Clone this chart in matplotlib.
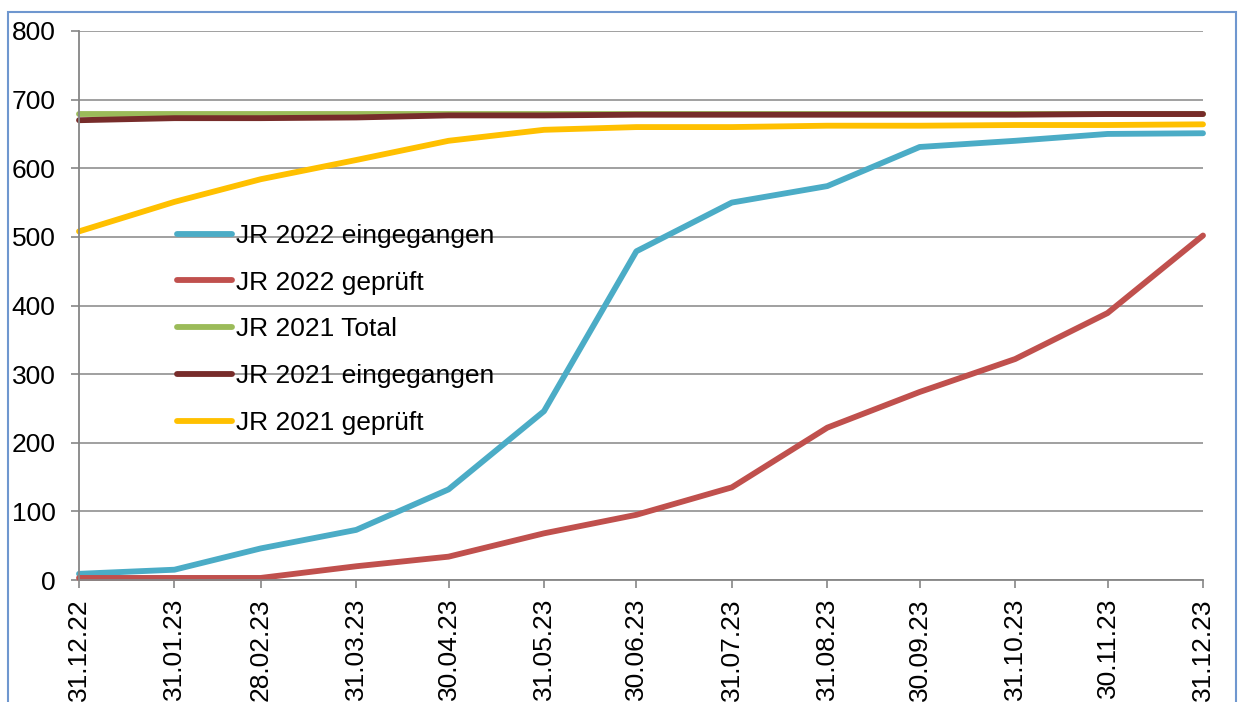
import matplotlib
matplotlib.use("Agg")
import matplotlib.pyplot as plt
import matplotlib.patches as mpatches
import pandas as pd

# ---- data ----
date_labels = ["31.12.22", "31.01.23", "28.02.23", "31.03.23", "30.04.23", "31.05.23",
               "30.06.23", "31.07.23", "31.08.23", "30.09.23", "31.10.23", "30.11.23", "31.12.23"]
jr2022_eingegangen = [9, 15, 46, 73, 132, 246, 479, 550, 574, 631, 640, 650, 651]
jr2022_geprueft = [3, 3, 3, 20, 34, 68, 95, 135, 222, 274, 322, 389, 502]
jr2021_total = [679, 679, 679, 679, 679, 679, 679, 679, 679, 679, 679, 679, 679]
jr2021_eingegangen = [670, 673, 673, 674, 677, 677, 678, 678, 678, 678, 678, 679, 679]
jr2021_geprueft = [508, 551, 584, 612, 640, 656, 660, 660, 662, 662, 663, 663, 664]

series_names = ["JR 2022 eingegangen", "JR 2022 geprüft", "JR 2021 Total",
                "JR 2021 eingegangen", "JR 2021 geprüft"]
series_values = [jr2022_eingegangen, jr2022_geprueft, jr2021_total,
                 jr2021_eingegangen, jr2021_geprueft]
series_colors = ["#4bacc6", "#c0504d", "#9bbb59", "#772c2a", "#ffc000"]
y_ticks = [0, 100, 200, 300, 400, 500, 600, 700, 800]

dates = pd.to_datetime(date_labels, format="%d.%m.%y")

plt.rcParams["font.family"] = ["Liberation Sans", "DejaVu Sans"]
FS = 19
GRID = "#868686"

W, H = 1238, 702
fig = plt.figure(figsize=(W / 100, H / 100), dpi=100)
ax = fig.add_axes([79 / W, 1 - 580 / H, (1203 - 79) / W, (580 - 31) / H])

for name, vals, col in zip(series_names, series_values, series_colors):
    ax.plot(dates, vals, color=col, lw=4.2, label=name, solid_capstyle="round",
            solid_joinstyle="round", clip_on=False)

ax.set_xlim(dates[0], dates[-1])
ax.set_ylim(0, 800)
ax.set_yticks(y_ticks)
ax.set_yticklabels([str(v) for v in y_ticks])
ax.set_xticks(dates)
ax.set_xticklabels(date_labels, rotation=90)

ax.set_axisbelow(True)
ax.grid(axis="y", color=GRID, lw=1.1)
ax.grid(axis="x", visible=False)
for s in ["top", "right"]:
    ax.spines[s].set_visible(False)
for s in ["left", "bottom"]:
    ax.spines[s].set_color(GRID)
    ax.spines[s].set_linewidth(1.3)
ax.tick_params(axis="y", length=6, width=1.2, color=GRID, labelsize=FS, pad=11)
ax.tick_params(axis="x", length=6, width=1.2, color=GRID, labelsize=FS, pad=7)

leg = ax.legend(loc="upper left", bbox_to_anchor=(177 / W, 1 - 224 / H),
                bbox_transform=fig.transFigure, frameon=False, fontsize=FS,
                handlelength=2.1, handletextpad=0.12, labelspacing=0.86,
                borderpad=0, borderaxespad=0)

# outer frame
frame = mpatches.Rectangle((8 / W, -0.05), (1236 - 8) / W, 1.05 - 12 / H,
                           transform=fig.transFigure, fill=False,
                           edgecolor="#6f97cf", lw=1.5, zorder=-1)
fig.patches.append(frame)

fig.savefig("out.png", dpi=100)
